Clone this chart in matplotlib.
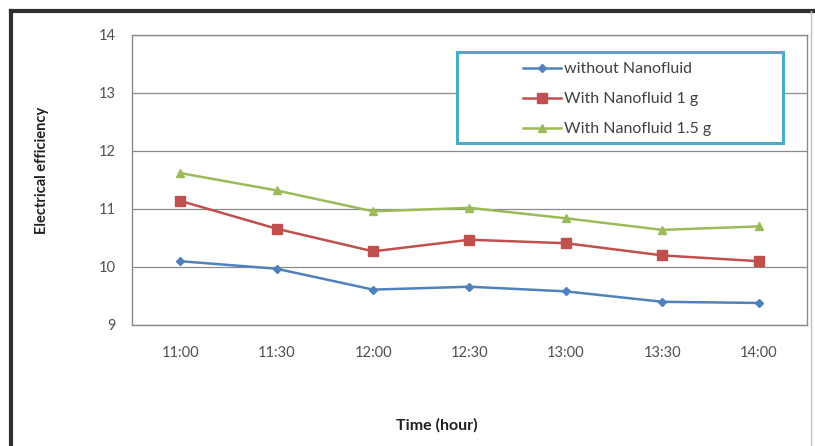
import numpy as np
import matplotlib
matplotlib.use("Agg")
import matplotlib.pyplot as plt
from matplotlib.lines import Line2D
from matplotlib.patches import Rectangle

plt.rcParams['font.family'] = ['Lato', 'DejaVu Sans']

times = ["11:00", "11:30", "12:00", "12:30", "13:00", "13:30", "14:00"]
without_nf = [10.10, 9.97, 9.61, 9.66, 9.58, 9.40, 9.38]
nf_1g = [11.14, 10.66, 10.27, 10.47, 10.41, 10.20, 10.10]
nf_15g = [11.62, 11.32, 10.96, 11.02, 10.84, 10.64, 10.70]

W, H = 815, 446
fig = plt.figure(figsize=(W / 100, H / 100), dpi=100)
ax = fig.add_axes([132 / W, 1 - 325 / H, (807 - 132) / W, (325 - 35) / H])

x = np.arange(len(times))
ax.plot(x, without_nf, color="#4F81BD", marker="D", markersize=4, lw=1.8,
        label="without Nanofluid")
ax.plot(x, nf_1g, color="#C0504D", marker="s", markersize=7, lw=1.8,
        label="With Nanofluid 1 g")
ax.plot(x, nf_15g, color="#9BBB59", marker="^", markersize=6, lw=1.8,
        label="With Nanofluid 1.5 g")

ax.set_xlim(-0.5, len(times) - 0.5)
ax.set_ylim(9, 14)
ax.set_yticks(range(9, 15))
ax.set_xticks(x)
ax.set_xticklabels(times)
ax.tick_params(axis="both", length=0, labelsize=10.5, colors="#505050")
ax.tick_params(axis="x", pad=15)
ax.tick_params(axis="y", pad=12)
ax.grid(axis="y", color="#8a8a8a", lw=0.9)
ax.set_axisbelow(True)
for s in ax.spines.values():
    s.set_color("#8a8a8a")
    s.set_linewidth(1.0)

fig.text(437 / W, 1 - 425 / H, "Time (hour)", ha="center", va="center",
         fontsize=11.5, fontweight="bold", color="#202020")
fig.text(42 / W, 1 - 170 / H, "Electrical efficiency", ha="center", va="center",
         rotation=90, fontsize=10.5, fontweight="bold", color="#202020")

# legend box and entries
fig.add_artist(Rectangle((457 / W, 1 - 143 / H), (783 - 457) / W, (143 - 52) / H,
                         transform=fig.transFigure, facecolor="white",
                         edgecolor="#4BACC6", lw=2.2, zorder=5))
leg = fig.legend(loc="upper left", bbox_to_anchor=(523 / W, 1 - 62 / H),
                 frameon=False, fontsize=11.5, handlelength=2.4,
                 labelspacing=1.0, handletextpad=0.15, borderpad=0,
                 borderaxespad=0)
leg.set_zorder(6)
for t in leg.get_texts():
    t.set_color("#404040")

# outer chart frame
fig.add_artist(Line2D([10.5 / W, 10.5 / W], [0, 1 - 10.5 / H], color="#303030", lw=3,
                      transform=fig.transFigure))
fig.add_artist(Line2D([10.5 / W, 1], [1 - 10.5 / H, 1 - 10.5 / H], color="#303030", lw=3,
                      transform=fig.transFigure))
fig.add_artist(Line2D([811 / W, 811 / W], [0, 1 - 10.5 / H], color="#c0c0c0", lw=1,
                      transform=fig.transFigure))

fig.savefig("out.png", dpi=100)
